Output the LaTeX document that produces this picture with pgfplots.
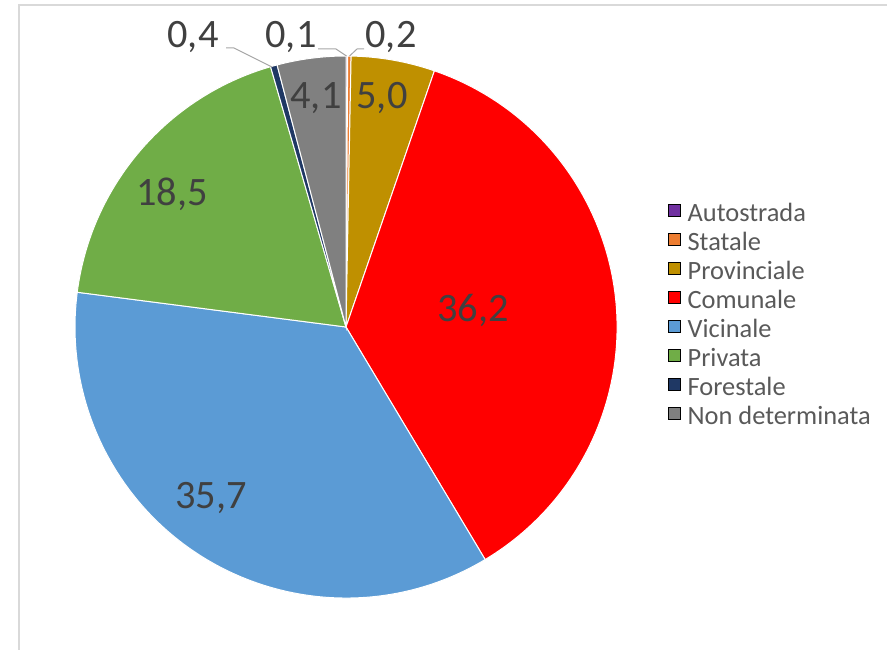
\documentclass[border=0pt]{standalone}
\usepackage{pgfplots}
\usepackage{pgfplotstable}
\usepackage{fontspec}
\setmainfont{Carlito}
\pgfplotsset{compat=1.18}

\definecolor{cAuto}{HTML}{7030A0}
\definecolor{cStat}{HTML}{ED7D31}
\definecolor{cProv}{HTML}{BF9000}
\definecolor{cCom}{HTML}{FF0000}
\definecolor{cVic}{HTML}{5B9BD5}
\definecolor{cPriv}{HTML}{70AD47}
\definecolor{cFor}{HTML}{1F3864}
\definecolor{cND}{HTML}{808080}
\definecolor{lblgray}{HTML}{404040}
\definecolor{leggray}{HTML}{595959}
\definecolor{leadgray}{HTML}{A6A6A6}
\definecolor{framegray}{HTML}{D9D9D9}

% share of each road type, lx/ly = where the data label sits (px)
\pgfplotstableread[col sep=semicolon]{
name;value;label;color;lx;ly
Autostrada;0.1;0,1;cAuto;291;37
Statale;0.2;0,2;cStat;391;37
Provinciale;5.0;5,0;cProv;382;98
Comunale;36.2;36,2;cCom;473;310
Vicinale;35.7;35,7;cVic;211;498
Privata;18.5;18,5;cPriv;172;194
Forestale;0.4;0,4;cFor;193;37
Non determinata;4.1;4,1;cND;316;98
}\piedata

\newcommand\lblfont{\fontsize{40.5}{48}\selectfont}

\begin{document}
\begin{tikzpicture}
\begin{axis}[
  width=887bp, height=650bp, scale only axis,
  xmin=0, xmax=887, ymin=0, ymax=650, y dir=reverse,
  hide axis, clip=false,
  legend image code/.code={\fill[#1] (0bp,0bp) rectangle (12bp,12bp);},
  legend cell align=left,
  legend style={at={(axis cs:668,202.5)}, anchor=north west, draw=none, fill=none,
    font=\fontsize{26.5}{29}\selectfont, text=leggray, inner sep=0pt,
    row sep=3bp, column sep=7bp,
    nodes={inner sep=0pt, text height=19bp, text depth=7bp}},
]
% frame
\draw[framegray, line width=2bp] (axis cs:19,650) -- (axis cs:19,5) -- (axis cs:887,5);

\pgfmathsetmacro\total{0}
\pgfplotsforeachungrouped \i in {0,...,7}{%
  \pgfplotstablegetelem{\i}{value}\of\piedata
  \pgfmathsetmacro\total{\total+\pgfplotsretval}%
}
\def\cum{0}
\pgfplotsforeachungrouped \i in {0,...,7}{%
  \pgfplotstablegetelem{\i}{value}\of\piedata \let\v\pgfplotsretval
  \pgfplotstablegetelem{\i}{color}\of\piedata \let\col\pgfplotsretval
  \pgfplotstablegetelem{\i}{name}\of\piedata \let\nm\pgfplotsretval
  \pgfmathsetmacro\a{90-360*(\cum/\total)}%
  \pgfmathsetmacro\b{90-360*((\cum+\v)/\total)}%
  \edef\tmp{\noexpand\fill[\col, draw=white, line width=1bp]
    (axis cs:346,327) -- ++(\a:271bp) arc[start angle=\a, end angle=\b, radius=271bp] -- cycle;
    \noexpand\addlegendimage{fill=\col}\noexpand\addlegendentry{\nm}}%
  \tmp
  \pgfmathsetmacro\cum{\cum+\v}%
}
% leader lines for the small slices
\draw[leadgray, line width=1bp] (axis cs:226,48) -- (axis cs:234,48) -- (axis cs:272,67);
\draw[leadgray, line width=1bp] (axis cs:318,49) -- (axis cs:336,49) -- (axis cs:346.5,56);
\draw[leadgray, line width=1bp] (axis cs:364,49) -- (axis cs:357,49) -- (axis cs:349.5,56);
% data labels
\pgfplotsforeachungrouped \i in {0,...,7}{%
  \pgfplotstablegetelem{\i}{label}\of\piedata \let\lab\pgfplotsretval
  \pgfplotstablegetelem{\i}{lx}\of\piedata \let\lx\pgfplotsretval
  \pgfplotstablegetelem{\i}{ly}\of\piedata \let\ly\pgfplotsretval
  \edef\tmp{\noexpand\node[font=\noexpand\lblfont, text=lblgray, inner sep=0pt]
    at (axis cs:\lx,\ly) {\lab};}%
  \tmp
}
\end{axis}
\pgfresetboundingbox
\path (current axis.south west) rectangle (current axis.north east);
\end{tikzpicture}
\end{document}
